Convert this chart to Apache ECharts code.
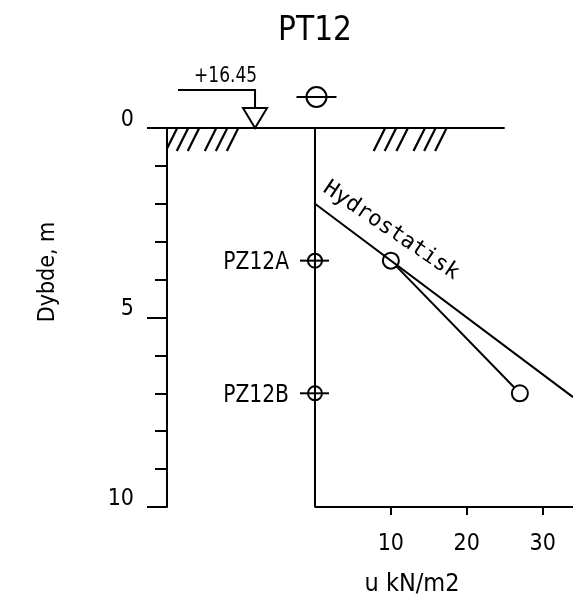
<!DOCTYPE html>
<html><head><meta charset="utf-8">
<script src="https://cdn.jsdelivr.net/npm/echarts@6/dist/echarts.min.js"></script>
<style>html,body{margin:0;padding:0;background:#fff}#c{width:573px;height:598px}</style>
</head><body><div id="c"></div>
<script>
// ---- data ----
const chartTitle = 'PT12';
const depthName = 'Dybde, m';
const uName = 'u kN/m2';
const uTickValues = [10, 20, 30];
const piezoNames = ['PZ12A', 'PZ12B'];
const piezoDepth = [3.5, 7.0];
const measuredU = [10, 27];
const hydroLabel = 'Hydrostatisk';
const hydroU = [0, 34];
const hydroDepth = [2.0, 7.1];
const groundElevation = '+16.45';
const waterDepth = 0;

// ---- layout / style ----
const FONT = "'Liberation Sans Narrow','DejaVu Sans Condensed','Liberation Sans',sans-serif";
const INK = '#000';
const LW = 2;
const X_MIN = -19.5, X_MAX = 34, D_MIN = 0, D_MAX = 10;
const GROUND_END_U = 25;
const HATCH_U = [-18.15, -16.7, -15.25, -13.0, -11.55, -10.1, 9.25, 10.7, 12.25, 14.5, 15.9, 17.35];
const WL_SYMBOL_U = -7.9;
const HYDRO_LABEL_POS = [9.9, 2.66];

const chart = echarts.init(document.getElementById('c'), null, {renderer: 'canvas'});

const txt = (extra) => Object.assign({fill: INK, fontFamily: FONT}, extra);

const option = {
  animation: false,
  backgroundColor: '#fff',
  title: {
    text: chartTitle, left: 315, top: 15, padding: 0, textAlign: 'center',
    textStyle: {fontFamily: FONT, fontSize: 33, fontWeight: 'normal', color: INK}
  },
  grid: {left: 167, right: 0, top: 128, bottom: 91, outerBoundsMode: 'none', containLabel: false},
  xAxis: {
    type: 'value', min: X_MIN, max: X_MAX,
    name: uName, nameLocation: 'middle', nameGap: 65,
    nameTextStyle: {fontFamily: FONT, fontSize: 25, color: INK, padding: [0, 0, 0, 84]},
    axisLine: {show: false, onZero: false},
    axisTick: {show: true, length: 8, customValues: uTickValues, lineStyle: {color: INK, width: 2}},
    axisLabel: {customValues: uTickValues, margin: 26, fontFamily: FONT, fontSize: 23, color: INK},
    splitLine: {show: false}
  },
  yAxis: {
    type: 'value', inverse: true, min: D_MIN, max: D_MAX, interval: 5,
    name: depthName, nameLocation: 'middle', nameGap: 107,
    nameTextStyle: {fontFamily: FONT, fontSize: 23, color: INK, padding: [0, 0, 0, 91]},
    axisLine: {show: true, onZero: false, lineStyle: {color: INK, width: 2}},
    axisTick: {show: true, length: 20, lineStyle: {color: INK, width: 2}},
    minorTick: {show: true, splitNumber: 5, length: 12, lineStyle: {color: INK, width: 2}},
    axisLabel: {margin: 33, fontFamily: FONT, fontSize: 23, color: INK, verticalAlign: 'bottom', lineHeight: 16},
    splitLine: {show: false}
  },
  series: [
    { // ground surface line
      type: 'line', symbol: 'none', silent: true, z: 3,
      data: [[X_MIN, waterDepth], [GROUND_END_U, waterDepth]],
      lineStyle: {color: INK, width: 2}
    },
    { // u = 0 axis and bottom axis line
      type: 'line', symbol: 'none', silent: true, z: 3,
      data: [[0, D_MIN], [0, D_MAX], [X_MAX, D_MAX]],
      lineStyle: {color: INK, width: 2}
    },
    { // ground hatching
      type: 'custom', clip: true, silent: true, z: 3,
      data: HATCH_U.map(u => [u, 0]),
      renderItem: (params, api) => {
        const p = api.coord([api.value(0), api.value(1)]);
        return {type: 'line', shape: {x1: p[0], y1: p[1], x2: p[0] - 11.5, y2: p[1] + 23},
          style: {stroke: INK, lineWidth: 2.2}};
      }
    },
    { // measured pore pressure
      type: 'line', z: 4,
      data: measuredU.map((u, i) => [u, piezoDepth[i]]),
      symbol: 'circle', symbolSize: 16, showAllSymbol: true,
      lineStyle: {color: INK, width: LW},
      itemStyle: {color: '#fff', borderColor: INK, borderWidth: LW}
    },
    { // hydrostatic line
      type: 'line', symbol: 'none', z: 5, silent: true,
      data: hydroU.map((u, i) => [u, hydroDepth[i]]),
      lineStyle: {color: INK, width: LW}
    },
    { // hydrostatic label
      type: 'custom', z: 6, silent: true,
      data: [HYDRO_LABEL_POS],
      renderItem: (params, api) => {
        const p = api.coord([api.value(0), api.value(1)]);
        return {type: 'text', x: p[0] + 1, y: p[1] + 2, rotation: -34 * Math.PI / 180,
          style: {text: hydroLabel, fill: INK, fontFamily: "'DejaVu Sans Mono',monospace", fontSize: 22,
            align: 'center', verticalAlign: 'middle', textAlign: 'center', textVerticalAlign: 'middle'}};
      }
    },
    { // piezometer tips
      type: 'custom', z: 6, silent: true, clip: false,
      data: piezoDepth.map(d => [0, d]),
      renderItem: (params, api) => {
        const p = api.coord([api.value(0), api.value(1)]);
        return {type: 'group', children: [
          {type: 'circle', shape: {cx: p[0], cy: p[1], r: 7}, style: {fill: 'none', stroke: INK, lineWidth: LW}},
          {type: 'line', shape: {x1: p[0] - 15, y1: p[1], x2: p[0] + 14, y2: p[1]}, style: {stroke: INK, lineWidth: LW}},
          {type: 'text', x: p[0] - 26, y: p[1] + 2, scaleX: 0.9, style: txt({text: piezoNames[params.dataIndex], fontSize: 25,
            align: 'right', verticalAlign: 'middle', textAlign: 'right', textVerticalAlign: 'middle'})}
        ]};
      }
    },
    { // borehole symbol above the profile
      type: 'custom', z: 6, silent: true, clip: false,
      data: [[0, 0]],
      renderItem: (params, api) => {
        const p = api.coord([api.value(0), api.value(1)]);
        const cx = p[0] + 1.5, cy = p[1] - 31;
        return {type: 'group', children: [
          {type: 'circle', shape: {cx: cx, cy: cy, r: 10}, style: {fill: 'none', stroke: INK, lineWidth: 2}},
          {type: 'line', shape: {x1: cx - 20, y1: cy, x2: cx + 20, y2: cy}, style: {stroke: INK, lineWidth: LW}}
        ]};
      }
    },
    { // ground water level marker with elevation
      type: 'custom', z: 6, silent: true, clip: false,
      data: [[WL_SYMBOL_U, waterDepth]],
      renderItem: (params, api) => {
        const p = api.coord([api.value(0), api.value(1)]);
        const x = p[0], y = p[1];
        return {type: 'group', children: [
          {type: 'polygon', shape: {points: [[x - 12, y - 20], [x + 12, y - 20], [x, y]]},
            style: {fill: '#fff', stroke: INK, lineWidth: LW}},
          {type: 'polyline', shape: {points: [[x - 77, y - 38], [x, y - 38], [x, y - 20]]},
            style: {fill: null, stroke: INK, lineWidth: LW}},
          {type: 'text', x: x + 2, y: y - 41, scaleX: 0.9, style: txt({text: groundElevation, fontSize: 21,
            align: 'right', verticalAlign: 'bottom', textAlign: 'right', textVerticalAlign: 'bottom'})}
        ]};
      }
    }
  ]
};
chart.setOption(option);
</script>
</body></html>
